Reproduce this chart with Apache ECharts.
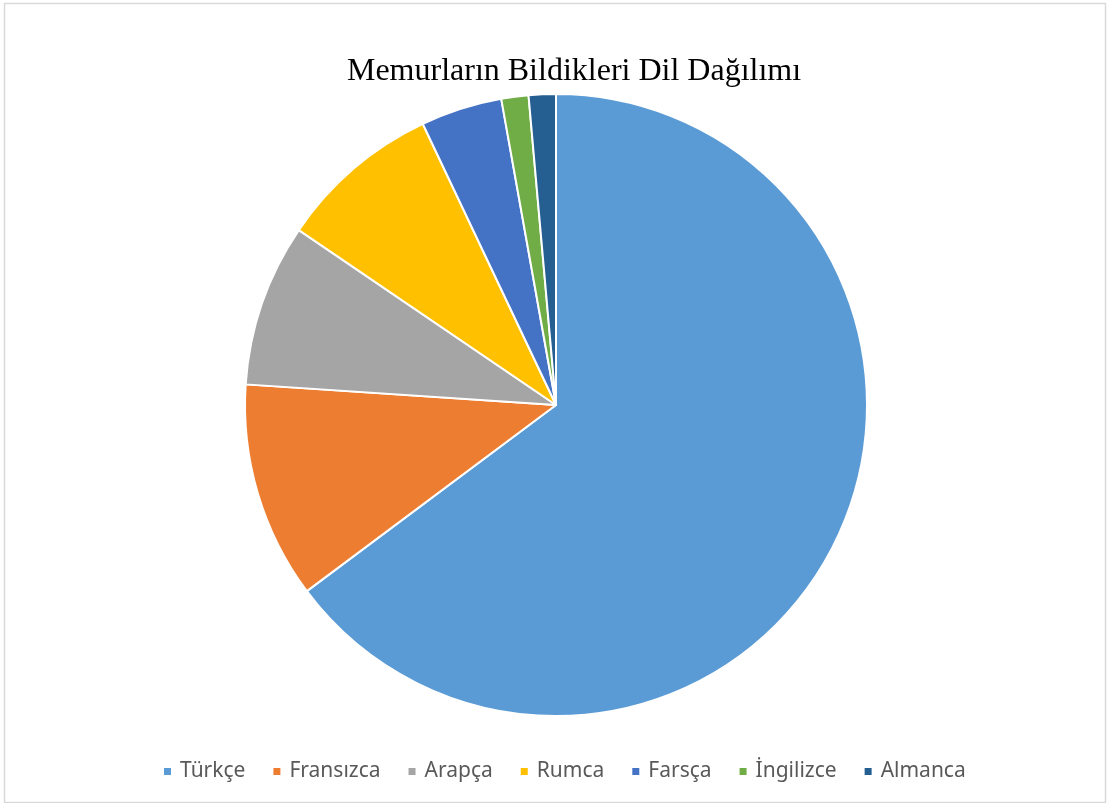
<!DOCTYPE html>
<html>
<head>
<meta charset="utf-8">
<script src="https://cdn.jsdelivr.net/npm/echarts@6/dist/echarts.min.js"></script>
<style>
  html, body { margin: 0; padding: 0; background: #fff; }
  #chart { width: 1111px; height: 803px; }
</style>
</head>
<body>
<div id="chart"></div>
<script>
// dil kategorileri ve memur sayilari (tahmini)
var languages = ['Türkçe', 'Fransızca', 'Arapça', 'Rumca', 'Farsça', 'İngilizce', 'Almanca'];
var counts = [46, 8, 6, 6, 3, 1, 1];
var colors = ['#5B9BD5', '#ED7D31', '#A5A5A5', '#FFC000', '#4472C4', '#70AD47', '#255E91'];

var chart = echarts.init(document.getElementById('chart'));

var pieData = languages.map(function (name, i) {
    return { name: name, value: counts[i], itemStyle: { color: colors[i] } };
});

var option = {
    backgroundColor: '#fff',
    animation: false,
    title: {
        text: 'Memurların Bildikleri Dil Dağılımı',
        left: 569,
        textAlign: 'center',
        top: 51,
        textStyle: {
            fontFamily: 'Liberation Serif',
            fontWeight: 'normal',
            fontSize: 32,
            color: '#000'
        }
    },
    legend: {
        data: languages,
        left: 157,
        top: 756,
        itemWidth: 9,
        itemHeight: 9,
        itemGap: 26,
        icon: 'rect',
        textStyle: {
            fontFamily: 'Noto Sans',
            fontSize: 21,
            color: '#595959',
            padding: [0, 0, 0, 3]
        }
    },
    graphic: [{
        type: 'rect',
        shape: { x: 4.5, y: 3.5, width: 1101, height: 799 },
        style: { fill: null, stroke: '#d9d9d9', lineWidth: 1.5 },
        silent: true
    }],
    series: [{
        type: 'pie',
        center: [556, 405],
        radius: 311,
        startAngle: 90,
        clockwise: true,
        label: { show: false },
        labelLine: { show: false },
        itemStyle: { borderColor: '#fff', borderWidth: 2 },
        data: pieData
    }]
};

chart.setOption(option);
</script>
</body>
</html>
